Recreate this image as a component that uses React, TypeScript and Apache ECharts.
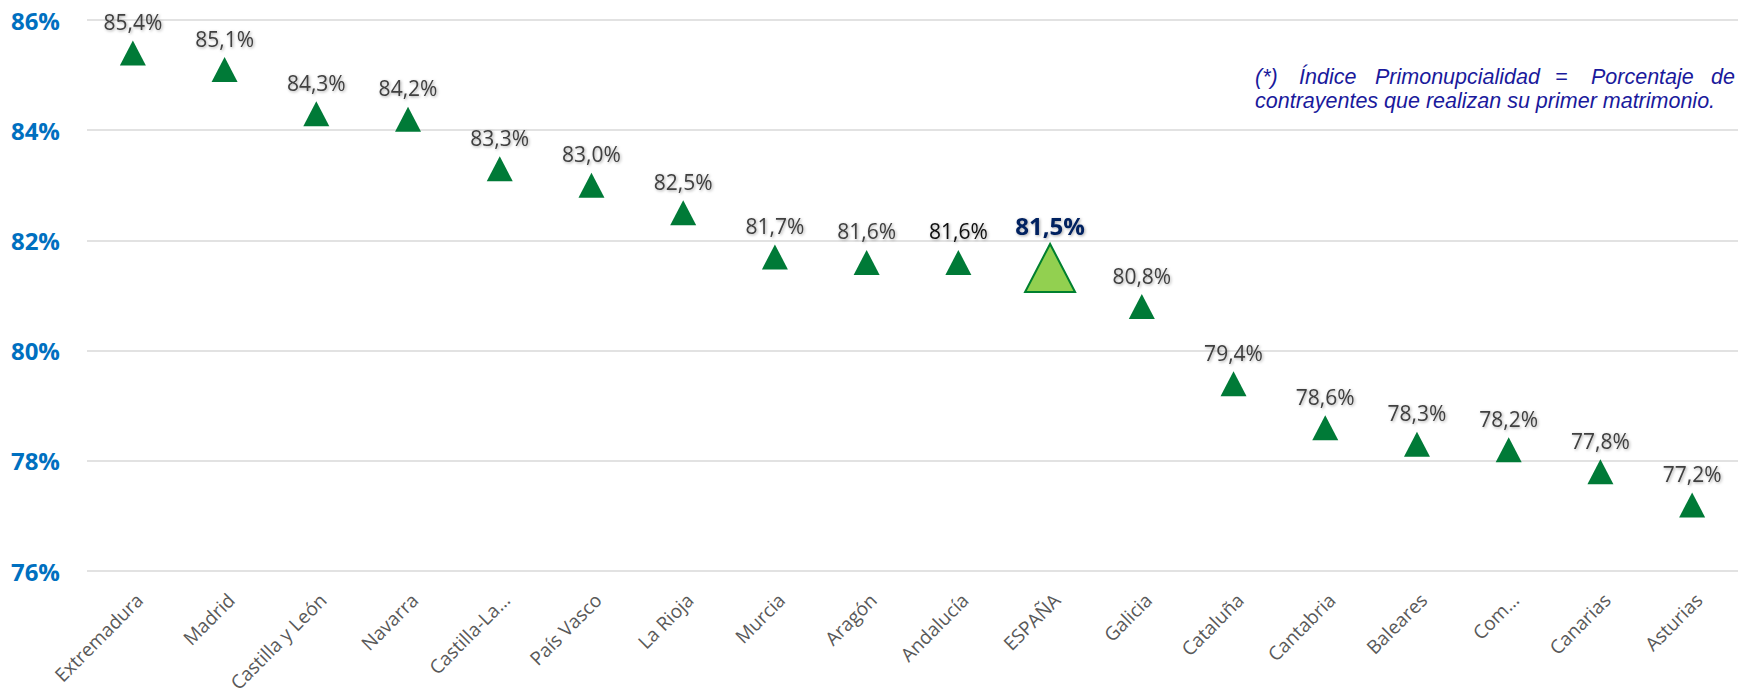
import React, { useEffect, useRef } from "react";
import * as echarts from "echarts";

const categories = [
  "Extremadura", "Madrid", "Castilla y León", "Navarra", "Castilla-La…", "País Vasco",
  "La Rioja", "Murcia", "Aragón", "Andalucía", "ESPAÑA", "Galicia", "Cataluña",
  "Cantabria", "Baleares", "Com…", "Canarias", "Asturias",
];
const values = [85.4, 85.1, 84.3, 84.2, 83.3, 83.0, 82.5, 81.7, 81.6, 81.6, 81.5, 80.8, 79.4, 78.6, 78.3, 78.2, 77.8, 77.2];
const highlightCategory = "ESPAÑA";
const blackLabelCategory = "Andalucía";
const yMin = 76;
const yMax = 86;
const yStep = 2;
const noteLine1Words = ["(*)", "Índice", "Primonupcialidad", "=", "Porcentaje", "de"];
const noteLine1X = [1255, 1299, 1375, 1555, 1591, 1711];
const noteLine2 = "contrayentes que realizan su primer matrimonio.";

const fmt = (v: number) => v.toFixed(1).replace(".", ",") + "%";

export default function App() {
  const ref = useRef<HTMLDivElement>(null);
  useEffect(() => {
    document.body.style.margin = "0";
    const chart = echarts.init(ref.current!, null, { renderer: "svg" });
    const shadow = {
      textShadowColor: "rgba(0,0,0,0.35)",
      textShadowBlur: 3,
      textShadowOffsetX: 1,
      textShadowOffsetY: 1,
    };
    const data = categories.map((c, i) => {
      if (c === highlightCategory) {
        return {
          value: values[i],
          symbolSize: [50, 48],
          itemStyle: { color: "#92D050", borderColor: "#00802F", borderWidth: 2, opacity: 1 },
          label: {
            fontSize: 24,
            fontWeight: "bold",
            color: "#002060",
            distance: 5,
            ...shadow,
          },
        };
      }
      if (c === blackLabelCategory) {
        return { value: values[i], label: { color: "#111111" } };
      }
      return { value: values[i] };
    });
    const noteStyle = {
      fill: "#1A1A9C",
      font: "italic 21.5px 'Liberation Sans', Arial, sans-serif",
      textVerticalAlign: "middle",
    };
    chart.setOption({
      animation: false,
      grid: {
        left: 87,
        right: 0,
        top: 20,
        bottom: 127,
        containLabel: false,
        outerBoundsMode: "none",
      },
      xAxis: {
        type: "category",
        data: categories,
        axisLine: { show: false },
        axisTick: { show: false },
        axisLabel: {
          interval: 0,
          rotate: 45,
          margin: 19,
          align: "right",
          verticalAlign: "top",
          fontFamily: "'Open Sans', sans-serif",
          fontSize: 19,
          color: "#595959",
        },
      },
      yAxis: {
        type: "value",
        min: yMin,
        max: yMax,
        interval: yStep,
        axisLine: { show: false },
        axisTick: { show: false },
        splitLine: { lineStyle: { color: "#D9D9D9", width: 1.5 } },
        axisLabel: {
          margin: 27,
          formatter: (v: number) => `${v}%`,
          fontFamily: "'Open Sans', sans-serif",
          fontSize: 24,
          fontWeight: "bold",
          color: "#0070C0",
        },
      },
      series: [
        {
          type: "scatter",
          data,
          symbol: "triangle",
          symbolSize: [26, 25],
          itemStyle: { color: "#007A37", opacity: 1 },
          label: {
            show: true,
            position: "top",
            distance: 8,
            formatter: (p: any) => fmt(p.value),
            fontFamily: "'Open Sans', sans-serif",
            fontSize: 21,
            color: "#404040",
            ...shadow,
          },
        },
      ],
      graphic: [
        ...noteLine1Words.map((w, i) => ({
          type: "text",
          x: noteLine1X[i],
          y: 77,
          style: { text: w, ...noteStyle },
        })),
        {
          type: "text",
          x: 1255,
          y: 101,
          style: { text: noteLine2, ...noteStyle },
        },
      ],
    });
    return () => chart.dispose();
  }, []);
  return <div ref={ref} style={{ width: 1738, height: 698 }} />;
}
